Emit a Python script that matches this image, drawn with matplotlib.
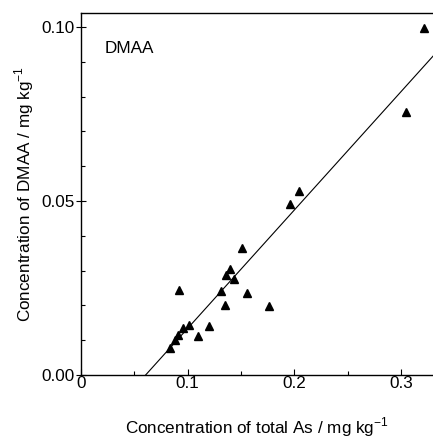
import numpy as np
import matplotlib
matplotlib.use("Agg")
import matplotlib.pyplot as plt
from matplotlib.ticker import MultipleLocator

# total As vs DMAA (mg/kg)
total_as = [0.322, 0.305, 0.204, 0.196, 0.151, 0.140, 0.136, 0.143, 0.131, 0.156,
            0.092, 0.135, 0.176, 0.120, 0.110, 0.101, 0.096, 0.091, 0.088, 0.083]
dmaa = [0.0997, 0.0757, 0.0529, 0.0490, 0.0366, 0.0304, 0.0287, 0.0275, 0.0242, 0.0237,
        0.0243, 0.0202, 0.0198, 0.0142, 0.0112, 0.0145, 0.0136, 0.0115, 0.0100, 0.0077]

# regression line
slope = 0.340
intercept = -0.0206
line_x = [0.0606, 0.33]

plt.rcParams['font.family'] = ['Liberation Sans', 'DejaVu Sans']
plt.rcParams['mathtext.fontset'] = 'custom'
plt.rcParams['mathtext.rm'] = 'Liberation Sans'

fs = 12.3

fig = plt.figure(figsize=(4.33, 4.38), dpi=100)
ax = fig.add_axes([81/433, 1 - 375/438, (433 - 81)/433, (375 - 13)/438])

ax.plot(total_as, dmaa, '^', color='black', markersize=5.5, clip_on=False)
ax.plot(line_x, [slope * v + intercept for v in line_x], color='black', linewidth=0.8)

ax.set_xlim(0, 0.33)
ax.set_ylim(0, 0.104)
ax.set_xticks([0, 0.1, 0.2, 0.3])
ax.set_xticklabels(['0', '0.1', '0.2', '0.3'])
ax.xaxis.set_minor_locator(MultipleLocator(0.05))
ax.set_yticks([0, 0.05, 0.10])
ax.set_yticklabels(['0.00', '0.05', '0.10'])
ax.yaxis.set_minor_locator(MultipleLocator(0.01))

ax.tick_params(which='both', direction='in', labelsize=fs, width=0.8)
ax.tick_params(which='major', length=4)
ax.tick_params(which='minor', length=3)
ax.tick_params(axis='y', which='major', direction='inout', length=7)
ax.tick_params(axis='x', pad=1)
ax.tick_params(axis='y', pad=1)

ax.spines['right'].set_visible(False)
for s in ['left', 'bottom', 'top']:
    ax.spines[s].set_linewidth(1.0)

ax.text(0.068, 0.903, 'DMAA', transform=ax.transAxes, fontsize=fs, va='center', ha='left')

ax.set_xlabel('Concentration of total As / mg kg$^{-1}$', fontsize=fs, labelpad=17)
ax.set_ylabel('Concentration of DMAA / mg kg$^{-1}$', fontsize=fs, labelpad=4)

fig.savefig('out.png', dpi=100)
